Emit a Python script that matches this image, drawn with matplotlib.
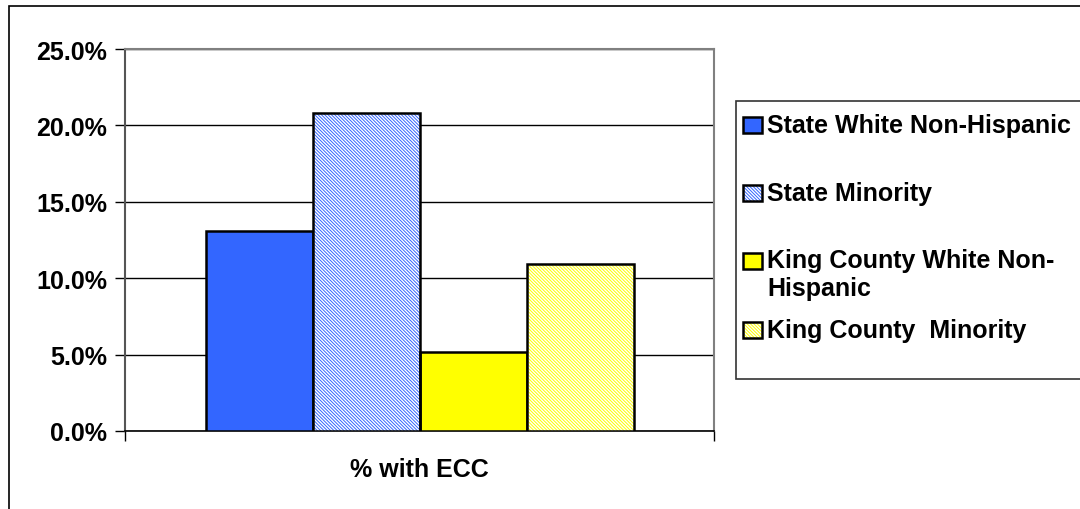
import matplotlib
matplotlib.use("Agg")
import matplotlib.pyplot as plt
from matplotlib.patches import Rectangle
from matplotlib.ticker import FuncFormatter

plt.rcParams['font.family'] = ['Liberation Sans', 'DejaVu Sans']
plt.rcParams['font.weight'] = 'bold'
plt.rcParams['hatch.linewidth'] = 0.7

category = "% with ECC"
series = ["State White Non-Hispanic", "State Minority",
          "King County White Non-\nHispanic", "King County  Minority"]
values = [13.1, 20.8, 5.2, 10.9]
colors = ["#3366FF", "#3366FF", "#FFFF00", "#FFFF00"]
hatched = [False, True, False, True]
yticks = [0, 5, 10, 15, 20, 25]

HATCH = '\\' * 10

W, H = 1080, 510
fig = plt.figure(figsize=(W / 100, H / 100), dpi=100)

def fx(px):
    return px / W

def fy(py):
    return 1 - py / H

# outer chart border
fig.patches.append(Rectangle((fx(9), fy(530)), fx(1200) - fx(9), fy(7) - fy(530),
                             transform=fig.transFigure, fill=False,
                             edgecolor="black", linewidth=1.2))

ax = fig.add_axes([fx(125), fy(432), fx(714) - fx(125), fy(50) - fy(432)])

bar_w = 107 / 589
x0 = 0.5 - 2 * bar_w
for i, (v, c, h) in enumerate(zip(values, colors, hatched)):
    left = x0 + i * bar_w
    if h:
        ax.bar(left, v, width=bar_w, align='edge', facecolor="white",
               edgecolor=c, hatch=HATCH, linewidth=0, zorder=3)
        ax.bar(left, v, width=bar_w, align='edge', facecolor="none",
               edgecolor="black", linewidth=1.8, zorder=4)
    else:
        ax.bar(left, v, width=bar_w, align='edge', facecolor=c,
               edgecolor="black", linewidth=1.8, zorder=3)

ax.set_xlim(0, 1)
ax.set_ylim(0, 25)
ax.set_yticks(yticks)
ax.yaxis.set_major_formatter(FuncFormatter(lambda v, p: f"{v:.1f}%"))
ax.grid(axis='y', color='black', linewidth=1.0, zorder=1)
ax.set_axisbelow(True)

ax.set_xticks([0, 1])
ax.set_xticklabels([])
ax.tick_params(axis='x', direction='out', length=7, width=1, colors='black')
ax.tick_params(axis='y', direction='out', length=7, width=1, labelsize=18,
               pad=6)
for lab in ax.get_yticklabels():
    lab.set_fontweight('bold')

for s in ['top', 'right']:
    ax.spines[s].set_color('#808080')
    ax.spines[s].set_linewidth(1.5)
ax.spines['left'].set_color('#555555')
ax.spines['left'].set_linewidth(1.5)
ax.spines['bottom'].set_color('black')
ax.spines['bottom'].set_linewidth(1.2)

ax.text(0.5, -0.1, category, transform=ax.transAxes, ha='center', va='center',
        fontsize=18, fontweight='bold')

# legend drawn as a framed box at the right edge
fig.patches.append(Rectangle((fx(736), fy(380)), fx(1200) - fx(736), fy(102) - fy(380),
                             transform=fig.transFigure, facecolor='white',
                             edgecolor='#333333', linewidth=1.2))
entry_y = [126, 194, 262, 331]
for lab, c, h, ey in zip(series, colors, hatched, entry_y):
    box = ((fx(743), fy(ey + 8)), fx(762) - fx(743), fy(ey - 8) - fy(ey + 8))
    if h:
        fig.patches.append(Rectangle(*box, transform=fig.transFigure,
                                     facecolor='white', edgecolor=c,
                                     hatch=HATCH, linewidth=0))
        fig.patches.append(Rectangle(*box, transform=fig.transFigure,
                                     facecolor='none', edgecolor='black',
                                     linewidth=1.8))
    else:
        fig.patches.append(Rectangle(*box, transform=fig.transFigure,
                                     facecolor=c, edgecolor='black',
                                     linewidth=1.8))
    if '\n' in lab:
        fig.text(fx(767), fy(ey - 13), lab, ha='left', va='top', fontsize=18,
                 fontweight='bold', linespacing=1.2)
    else:
        fig.text(fx(767), fy(ey), lab, ha='left', va='center', fontsize=18,
                 fontweight='bold')

fig.savefig("out.png", dpi=100)
